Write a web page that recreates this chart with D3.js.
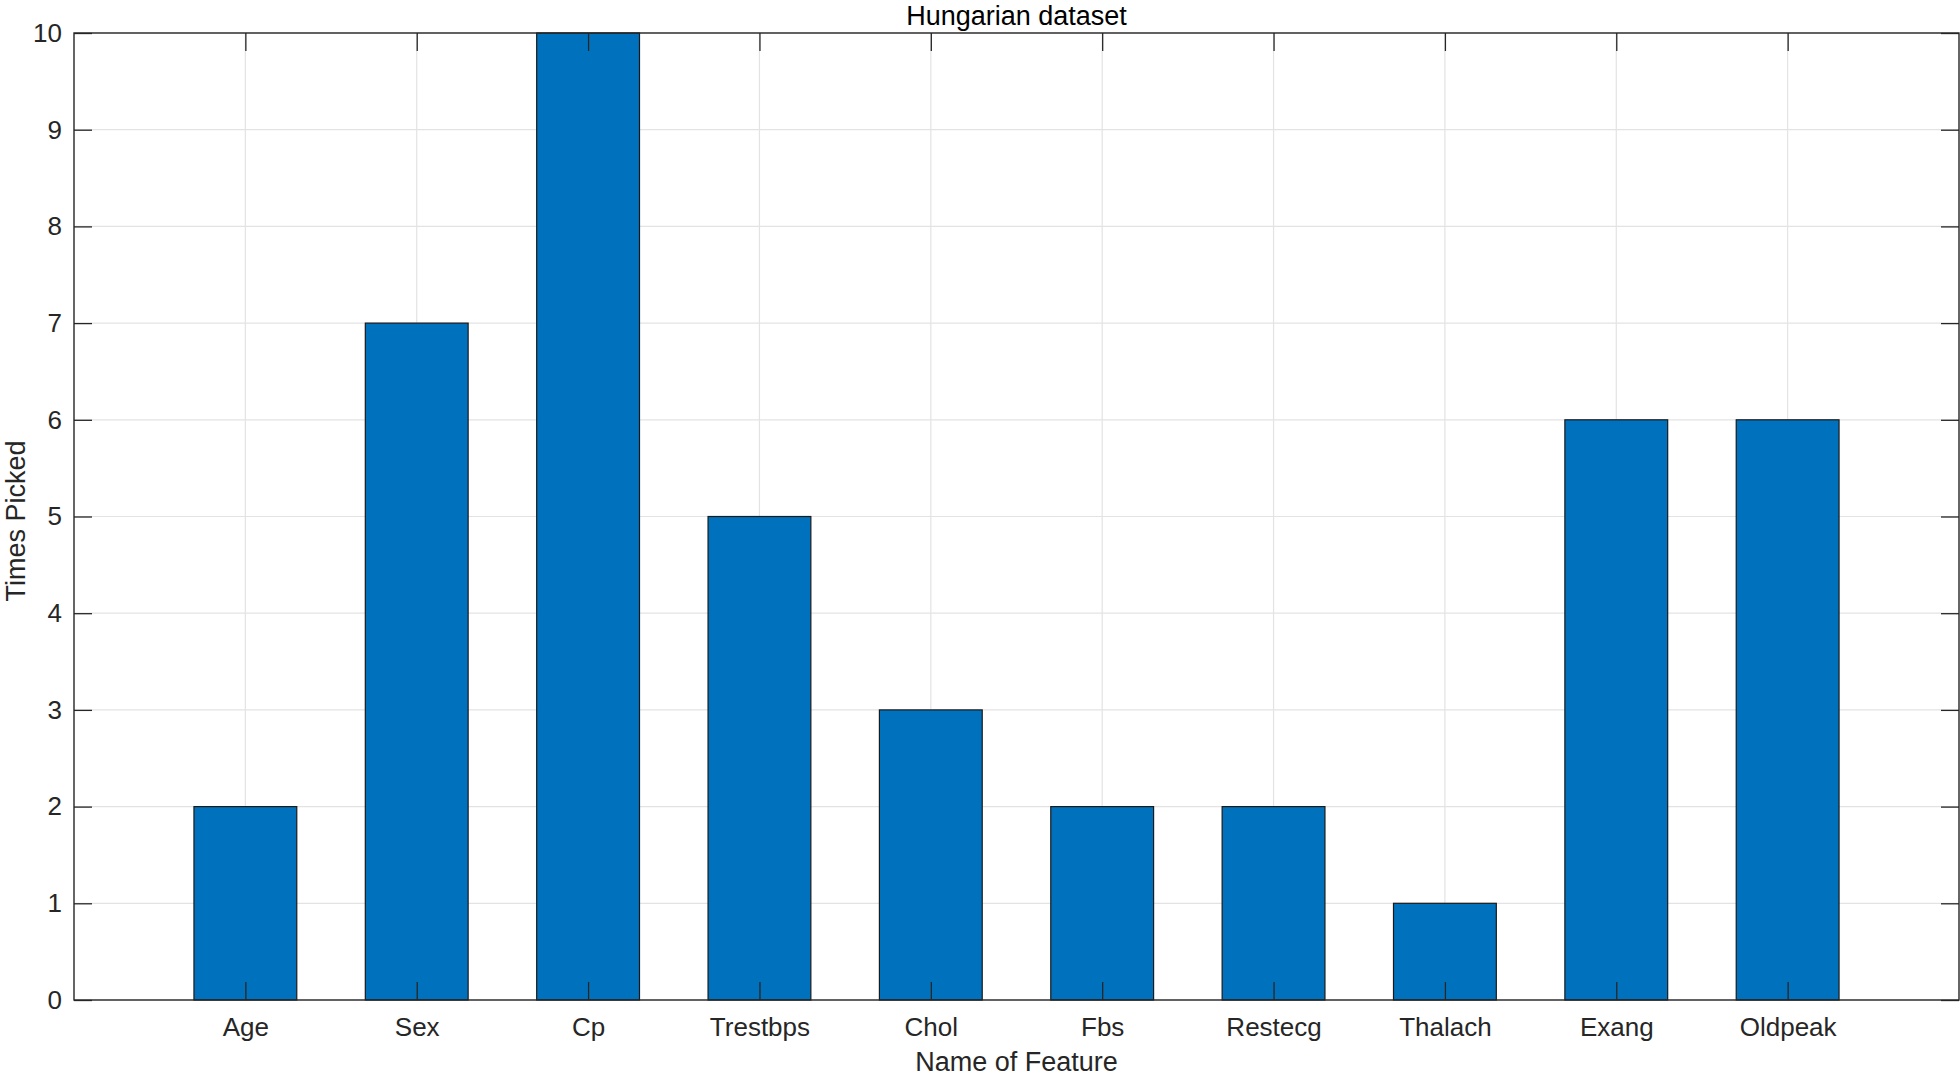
<!DOCTYPE html>
<html>
<head>
<meta charset="utf-8">
<script src="https://cdn.jsdelivr.net/npm/d3@7"></script>
<style>
  html, body { margin: 0; padding: 0; background: #fff; }
  svg { display: block; font-family: "Liberation Sans", Arial, Helvetica, sans-serif; }
</style>
</head>
<body>
<svg id="chart" width="1960" height="1078"></svg>
<script>
const categories = ["Age", "Sex", "Cp", "Trestbps", "Chol", "Fbs", "Restecg", "Thalach", "Exang", "Oldpeak"];
const values = [2, 7, 10, 5, 3, 2, 2, 1, 6, 6];
const yTicks = [0, 1, 2, 3, 4, 5, 6, 7, 8, 9, 10];
const titleText = "Hungarian dataset";
const xLabelText = "Name of Feature";
const yLabelText = "Times Picked";

const svg = d3.select("#chart");
const margin = { left: 74, right: 1, top: 33, bottom: 78 };
const W = 1960, H = 1078;
const x0 = margin.left, x1 = W - margin.right, y0 = H - margin.bottom, y1 = margin.top;

const x = d3.scaleLinear().domain([0, categories.length + 1]).range([x0, x1]);
const y = d3.scaleLinear().domain([0, 10]).range([y0, y1]);
const idx = categories.map((c, i) => i + 1);
const barW = 0.6;

const axisColor = "#262626";
const gridColor = "#e3e3e3";
const tickLen = 18;

// grid
const g = svg.append("g");
g.selectAll("line.gy").data(yTicks).join("line")
  .attr("x1", x0).attr("x2", x1)
  .attr("y1", d => y(d)).attr("y2", d => y(d))
  .attr("stroke", gridColor).attr("stroke-width", 1.2);
g.selectAll("line.gx").data(idx).join("line")
  .attr("x1", d => x(d)).attr("x2", d => x(d))
  .attr("y1", y0).attr("y2", y1)
  .attr("stroke", gridColor).attr("stroke-width", 1.2);

// bars
svg.append("g").selectAll("rect").data(values).join("rect")
  .attr("x", (d, i) => x(i + 1 - barW / 2))
  .attr("width", (d, i) => x(i + 1 + barW / 2) - x(i + 1 - barW / 2))
  .attr("y", d => y(d))
  .attr("height", d => y(0) - y(d))
  .attr("fill", "#0072BD")
  .attr("stroke", "#1a1a1a")
  .attr("stroke-width", 1.2);

// axes
const fontSize = 26;
const axL = d3.axisLeft(y).tickValues(yTicks).tickFormat(d3.format("d")).tickSizeInner(-tickLen).tickSizeOuter(0).tickPadding(12);
const axR = d3.axisRight(y).tickValues(yTicks).tickFormat("").tickSizeInner(-tickLen).tickSizeOuter(0);
const axB = d3.axisBottom(x).tickValues(idx).tickFormat(d => categories[d - 1]).tickSizeInner(-tickLen).tickSizeOuter(0).tickPadding(18);
const axT = d3.axisTop(x).tickValues(idx).tickFormat("").tickSizeInner(-tickLen).tickSizeOuter(0);

function style(sel) {
  sel.selectAll(".domain").remove();
  sel.selectAll(".tick line").attr("stroke", axisColor).attr("stroke-width", 1.3);
  sel.selectAll(".tick text").attr("fill", "#262626").style("font-size", fontSize + "px")
     .style("font-family", "'Liberation Sans', Arial, sans-serif");
}
svg.append("g").attr("transform", `translate(${x0},0)`).call(axL).call(style);
svg.append("g").attr("transform", `translate(${x1},0)`).call(axR).call(style);
svg.append("g").attr("transform", `translate(0,${y0})`).call(axB).call(style);
svg.append("g").attr("transform", `translate(0,${y1})`).call(axT).call(style);

// box
svg.append("rect").attr("x", x0).attr("y", y1).attr("width", x1 - x0).attr("height", y0 - y1)
  .attr("fill", "none").attr("stroke", axisColor).attr("stroke-width", 1.4);

// labels
svg.append("text").attr("x", (x0 + x1) / 2).attr("y", 25)
  .attr("text-anchor", "middle").attr("fill", "#000").style("font-size", "27px").text(titleText);
svg.append("text").attr("x", (x0 + x1) / 2).attr("y", 1071)
  .attr("text-anchor", "middle").attr("fill", "#262626").style("font-size", "27px").text(xLabelText);
svg.append("text").attr("transform", `translate(25,521) rotate(-90)`)
  .attr("text-anchor", "middle").attr("fill", "#262626").style("font-size", "27px").text(yLabelText);
</script>
</body>
</html>
